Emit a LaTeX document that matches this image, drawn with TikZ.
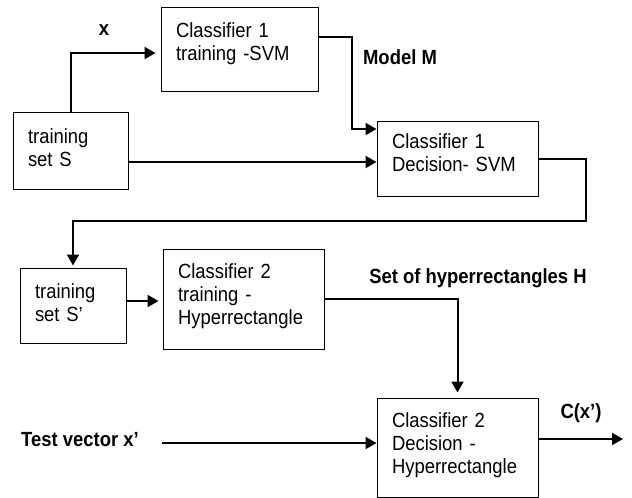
\documentclass[tikz,border=0pt]{standalone}
\usepackage{fontspec}
\setmainfont{Liberation Sans}[FakeStretch=0.9]
\usetikzlibrary{arrows.meta}
\tikzset{
  box/.style={draw, line width=1pt, rectangle, align=left, inner xsep=15pt, inner ysep=0pt,
              text height=15pt, font=\fontsize{20.5}{23}\selectfont},
  conn/.style={line width=2pt, -{Triangle[length=11pt,width=12pt]}},
  lbl/.style={font=\fontsize{20.5}{23}\selectfont\bfseries, inner sep=0pt, anchor=base}
}
\begin{document}
\begin{tikzpicture}[x=1pt,y=-1pt]
\useasboundingbox (0,0) rectangle (632,498);
% boxes
\node[box, text width=85pt, minimum width=115pt, minimum height=77pt, text depth=30pt] (S) at (70.5,150.5) {training\\set S};
\node[box, text width=127pt, minimum width=157pt, minimum height=84pt, text depth=39pt] (c1t) at (239.5,49) {Classifier 1\\training -SVM};
\node[box, text width=131pt, minimum width=161pt, minimum height=75pt, text depth=36pt] (c1d) at (457.5,158.5) {Classifier 1\\Decision- SVM};
\node[box, text width=76pt, minimum width=106pt, minimum height=75pt, text depth=30pt] (Sp) at (73,305.5) {training\\set S'};
\node[box, text width=131pt, minimum width=161pt, minimum height=100pt, text depth=57pt] (c2t) at (243.5,299) {Classifier 2\\training -\\Hyperrectangle};
\node[box, text width=131pt, minimum width=161pt, minimum height=99pt, text depth=56pt] (c2d) at (457.5,447.5) {Classifier 2\\Decision -\\Hyperrectangle};
% labels
\node[lbl] (lx) at (104,35) {x};
\node[lbl] (lm) at (400,64) {Model M};
\node[lbl] (lh) at (478,283) {Set of hyperrectangles H};
\node[lbl] (lc) at (581,418) {C(x’)};
\node[lbl] (lt) at (80,446) {Test vector x’};
% free ends
\coordinate (k1) at (586,221);
\coordinate (tvs) at (162,443);
\coordinate (out) at (623,439);
% connectors
\draw[conn, shorten >=5pt] (S.north) |- ([yshift=-4pt]c1t.west);
\draw[conn] ([yshift=12pt]c1t.east) -- ++(33,0) |- ([yshift=29.5pt]c1d.west);
\draw[conn] ([yshift=-11.5pt]S.east) -- ([yshift=-11.5pt]S.east -| c1d.west);
\draw[conn, shorten >=2pt] (c1d.east) -| (k1) -| (Sp.north);
\draw[conn, shorten >=4pt] ([yshift=4.5pt]Sp.east) -- ([yshift=4.5pt]Sp.east -| c2t.west);
\draw[conn, shorten >=5pt] (c2t.east) -| (c2d.north);
\draw[conn] (tvs) -- (tvs -| c2d.west);
\draw[conn] ([yshift=8.5pt]c2d.east) -- (out);
\end{tikzpicture}
\end{document}
